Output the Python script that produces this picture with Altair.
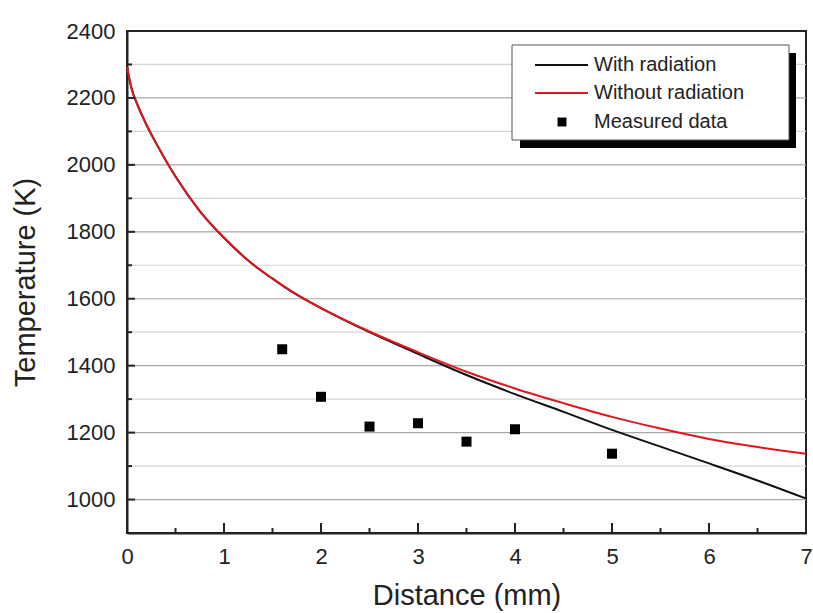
import altair as alt
import pandas as pd

# ---- data ----
dist = [0, 0.05, 0.1, 0.2, 0.3, 0.5, 0.75, 1.0, 1.25, 1.5, 1.75, 2.0, 2.5, 3.0,
        3.5, 4.0, 4.5, 5.0, 5.5, 6.0, 6.5, 7.0]
t_with = [2293, 2225, 2185, 2120, 2065, 1965, 1862, 1782, 1714, 1660, 1612, 1572, 1500, 1435,
          1372, 1315, 1262, 1208, 1158, 1108, 1057, 1003]
t_without = [2293, 2225, 2185, 2120, 2065, 1965, 1862, 1782, 1714, 1660, 1612, 1572, 1502, 1440,
             1382, 1332, 1288, 1247, 1212, 1181, 1157, 1137]
meas_x = [1.6, 2.0, 2.5, 3.0, 3.5, 4.0, 5.0]
meas_t = [1449, 1307, 1218, 1228, 1173, 1210, 1137]

series_names = ["With radiation", "Without radiation", "Measured data"]
x_labels = [0, 1, 2, 3, 4, 5, 6, 7]
x_minor = [0.5, 1.5, 2.5, 3.5, 4.5, 5.5, 6.5]
y_labels = [1000, 1200, 1400, 1600, 1800, 2000, 2200, 2400]
y_minor = [1100, 1300, 1500, 1700, 1900, 2100, 2300]

W, H = 679, 502
FONT = "Liberation Sans"

lines_df = pd.DataFrame({
    "d": dist * 2,
    "T": t_with + t_without,
    "s": [series_names[0]] * len(dist) + [series_names[1]] * len(dist),
})
meas_df = pd.DataFrame({"d": meas_x, "T": meas_t})

xs = alt.Scale(domain=[0, 7], nice=False, zero=False)
ys = alt.Scale(domain=[900, 2400], nice=False, zero=False)

x_axis = alt.Axis(values=x_labels, format="d", labelFlush=False, ticks=False, grid=False,
                  labelFontSize=22, labelFont=FONT,
                  labelColor="#222", domainColor="#222", domainWidth=2, labelPadding=13,
                  title="Distance (mm)", titleFontSize=29, titleFont=FONT, titleFontWeight="normal",
                  titleColor="#222", titlePadding=14)
y_axis = alt.Axis(values=y_labels, format="d", labelFlush=False, ticks=False, grid=False,
                  labelFontSize=22, labelFont=FONT,
                  labelColor="#222", domainColor="#222", domainWidth=2, labelPadding=12,
                  title="Temperature (K)", titleFontSize=29, titleFont=FONT, titleFontWeight="normal",
                  titleColor="#222", titlePadding=26)

base_x = alt.X("d:Q", scale=xs, axis=x_axis)
base_y = alt.Y("T:Q", scale=ys, axis=y_axis)

grid_major = alt.Chart(pd.DataFrame({"T": y_labels[:-1]})).mark_rule(color="#a8a8a8", strokeWidth=1.2).encode(
    y=alt.Y("T:Q", scale=ys), x=alt.value(0), x2=alt.value(W))
grid_minor = alt.Chart(pd.DataFrame({"T": y_minor})).mark_rule(color="#d4d4d4", strokeWidth=1.2).encode(
    y=alt.Y("T:Q", scale=ys), x=alt.value(0), x2=alt.value(W))

color_scale = alt.Scale(domain=series_names[:2], range=["#111111", "#e0161e"])
line_black = alt.Chart(lines_df[lines_df.s == series_names[0]]).mark_line(strokeWidth=2, interpolate="monotone").encode(
    x=base_x, y=base_y, color=alt.Color("s:N", scale=color_scale, legend=None))
line_red = alt.Chart(lines_df[lines_df.s == series_names[1]]).mark_line(strokeWidth=2, interpolate="monotone").encode(
    x=alt.X("d:Q", scale=xs), y=alt.Y("T:Q", scale=ys), color=alt.Color("s:N", scale=color_scale, legend=None))
points = alt.Chart(meas_df).mark_point(shape="square", filled=True, size=100, color="black", opacity=1).encode(
    x=alt.X("d:Q", scale=xs), y=alt.Y("T:Q", scale=ys))

# inward ticks
xt_major = alt.Chart(pd.DataFrame({"d": x_labels})).mark_rule(color="#222", strokeWidth=2).encode(
    x=alt.X("d:Q", scale=xs), y=alt.value(H), y2=alt.value(H - 10))
xt_minor = alt.Chart(pd.DataFrame({"d": x_minor})).mark_rule(color="#222", strokeWidth=2).encode(
    x=alt.X("d:Q", scale=xs), y=alt.value(H), y2=alt.value(H - 5))
yt_major = alt.Chart(pd.DataFrame({"T": y_labels})).mark_rule(color="#222", strokeWidth=2).encode(
    y=alt.Y("T:Q", scale=ys), x=alt.value(0), x2=alt.value(8))
yt_minor = alt.Chart(pd.DataFrame({"T": y_minor})).mark_rule(color="#222", strokeWidth=2).encode(
    y=alt.Y("T:Q", scale=ys), x=alt.value(0), x2=alt.value(5))

# legend (box with drop shadow)
LX0, LY0, LX1, LY1 = 385, 14, 662, 109
dummy = pd.DataFrame({"a": [0]})
shadow = alt.Chart(dummy).mark_rect(color="black").encode(
    x=alt.value(LX0 + 8), x2=alt.value(LX1 + 7), y=alt.value(LY0 + 8), y2=alt.value(LY1 + 8))
box = alt.Chart(dummy).mark_rect(fill="white", stroke="#555", strokeWidth=1).encode(
    x=alt.value(LX0), x2=alt.value(LX1), y=alt.value(LY0), y2=alt.value(LY1))
row_y = [LY0 + 20, LY0 + 48, LY0 + 77]
leg_layers = [shadow, box]
for i, col in enumerate(["#111111", "#e0161e"]):
    leg_layers.append(alt.Chart(dummy).mark_rule(color=col, strokeWidth=2).encode(
        x=alt.value(LX0 + 23), x2=alt.value(LX0 + 76), y=alt.value(row_y[i])))
leg_layers.append(alt.Chart(dummy).mark_point(shape="square", filled=True, size=80, color="black", opacity=1).encode(
    x=alt.value(LX0 + 50), y=alt.value(row_y[2])))
for i, name in enumerate(series_names):
    leg_layers.append(alt.Chart(pd.DataFrame({"t": [name]})).mark_text(
        align="left", baseline="middle", font=FONT, fontSize=20, color="#222").encode(
        x=alt.value(LX0 + 82), y=alt.value(row_y[i]), text="t:N"))

chart = alt.layer(
    grid_minor, grid_major, line_black, line_red, points,
    xt_major, xt_minor, yt_major, yt_minor, *leg_layers
).properties(
    width=W, height=H,
    padding={"left": 127, "top": 31, "right": 7, "bottom": 80},
    autosize=alt.AutoSizeParams(type="none"),
    background="white",
).configure_view(stroke="#222", strokeWidth=2)

chart.save("out.html", embed_options={"renderer": "svg", "actions": False})
